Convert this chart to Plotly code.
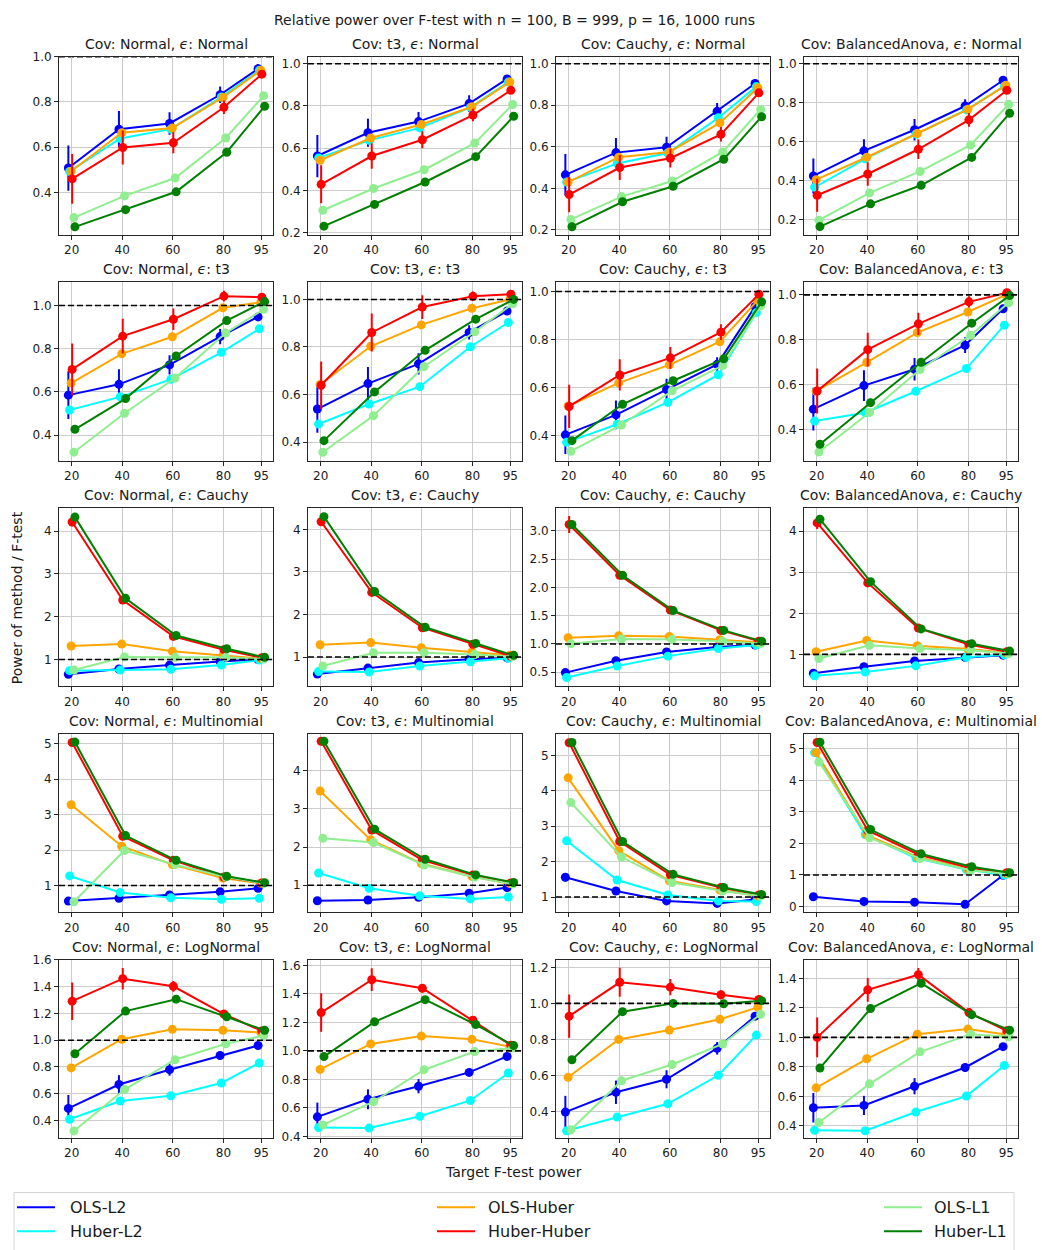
import plotly.graph_objects as go
from plotly.subplots import make_subplots

# ---------------------------------------------------------------------------
# Data: power of each method divided by the power of the F-test.
# Panels are ordered row by row (error distribution), column by column
# (covariate distribution).
# ---------------------------------------------------------------------------
targets = [20, 40, 60, 80, 95]
cov_names = ["Normal", "t3", "Cauchy", "BalancedAnova"]
noise_names = ["Normal", "t3", "Cauchy", "Multinomial", "LogNormal"]
method_names = ["OLS-L2", "Huber-L2", "OLS-Huber", "Huber-Huber", "OLS-L1", "Huber-L1"]

ols_l2 = [
    [0.508, 0.680, 0.705, 0.832, 0.947], [0.563, 0.673, 0.726, 0.811, 0.928],
    [0.465, 0.572, 0.598, 0.771, 0.905], [0.424, 0.553, 0.661, 0.783, 0.915],
    [0.585, 0.635, 0.725, 0.856, 0.947], [0.539, 0.646, 0.729, 0.861, 0.951],
    [0.404, 0.487, 0.592, 0.697, 0.937], [0.491, 0.596, 0.669, 0.776, 0.938],
    [0.654, 0.777, 0.869, 0.954, 1.000], [0.600, 0.740, 0.870, 0.950, 0.980],
    [0.494, 0.703, 0.860, 0.948, 0.980], [0.540, 0.700, 0.840, 0.930, 0.980],
    [0.560, 0.640, 0.730, 0.820, 0.920], [0.590, 0.610, 0.680, 0.790, 0.940],
    [1.560, 1.170, 0.890, 0.820, 0.930], [0.310, 0.160, 0.140, 0.070, 0.990],
    [0.491, 0.669, 0.780, 0.886, 0.960], [0.537, 0.660, 0.752, 0.849, 0.961],
    [0.397, 0.507, 0.579, 0.751, 0.929], [0.523, 0.539, 0.669, 0.796, 0.937],
]
ols_l2_err = [
    [0.100, 0.080, 0.050, 0.037, 0.020], [0.100, 0.066, 0.045, 0.040, 0.015],
    [0.100, 0.070, 0.050, 0.040, 0.020], [0.090, 0.060, 0.055, 0.035, 0.018],
    [0.110, 0.070, 0.045, 0.035, 0.015], [0.100, 0.070, 0.045, 0.030, 0.015],
    [0.080, 0.060, 0.045, 0.030, 0.015], [0.095, 0.068, 0.050, 0.035, 0.015],
    [0.060, 0.050, 0.040, 0.030, 0.020], [0.060, 0.050, 0.040, 0.030, 0.020],
    [0.060, 0.050, 0.040, 0.030, 0.020], [0.060, 0.050, 0.040, 0.030, 0.020],
    [0.040, 0.030, 0.030, 0.020, 0.020], [0.040, 0.030, 0.030, 0.020, 0.020],
    [0.120, 0.060, 0.040, 0.030, 0.020], [0.040, 0.030, 0.030, 0.020, 0.020],
    [0.100, 0.070, 0.045, 0.025, 0.015], [0.100, 0.070, 0.050, 0.025, 0.015],
    [0.090, 0.065, 0.050, 0.035, 0.020], [0.100, 0.065, 0.055, 0.030, 0.015],
]
huber_l2 = [
    [0.493, 0.639, 0.680, 0.822, 0.940], [0.554, 0.637, 0.696, 0.793, 0.913],
    [0.430, 0.520, 0.570, 0.740, 0.890], [0.366, 0.512, 0.639, 0.763, 0.885],
    [0.516, 0.577, 0.658, 0.783, 0.892], [0.476, 0.560, 0.633, 0.801, 0.903],
    [0.373, 0.448, 0.539, 0.654, 0.912], [0.438, 0.475, 0.571, 0.672, 0.865],
    [0.738, 0.754, 0.770, 0.869, 0.985], [0.660, 0.650, 0.790, 0.890, 0.970],
    [0.407, 0.610, 0.785, 0.920, 0.980], [0.480, 0.570, 0.720, 0.930, 0.990],
    [1.270, 0.800, 0.655, 0.610, 0.640], [1.320, 0.920, 0.720, 0.640, 0.690],
    [2.590, 1.480, 1.060, 0.890, 0.870], [4.880, 2.280, 1.540, 1.170, 1.000],
    [0.410, 0.546, 0.585, 0.681, 0.830], [0.462, 0.458, 0.541, 0.652, 0.845],
    [0.293, 0.370, 0.443, 0.601, 0.824], [0.371, 0.367, 0.494, 0.602, 0.810],
]
ols_huber = [
    [0.494, 0.664, 0.685, 0.820, 0.940], [0.543, 0.648, 0.712, 0.796, 0.913],
    [0.430, 0.550, 0.575, 0.715, 0.885], [0.405, 0.520, 0.642, 0.766, 0.890],
    [0.641, 0.776, 0.855, 0.989, 1.015], [0.642, 0.803, 0.893, 0.963, 1.000],
    [0.524, 0.620, 0.695, 0.791, 0.964], [0.571, 0.699, 0.832, 0.924, 1.000],
    [1.315, 1.360, 1.190, 1.100, 1.020], [1.290, 1.340, 1.220, 1.120, 1.040],
    [1.110, 1.145, 1.130, 1.075, 1.030], [1.064, 1.340, 1.210, 1.130, 1.040],
    [3.280, 2.110, 1.590, 1.210, 1.060], [3.470, 2.190, 1.570, 1.230, 1.040],
    [4.370, 2.310, 1.460, 1.200, 1.030], [4.880, 2.270, 1.570, 1.180, 1.050],
    [0.793, 1.007, 1.081, 1.074, 1.057], [0.870, 1.049, 1.104, 1.081, 1.030],
    [0.590, 0.800, 0.852, 0.912, 0.978], [0.658, 0.855, 1.022, 1.056, 1.020],
]
huber_huber = [
    [0.460, 0.599, 0.620, 0.777, 0.923], [0.429, 0.563, 0.640, 0.757, 0.874],
    [0.370, 0.500, 0.545, 0.660, 0.860], [0.325, 0.434, 0.561, 0.712, 0.864],
    [0.704, 0.858, 0.936, 1.043, 1.038], [0.639, 0.861, 0.968, 1.013, 1.022],
    [0.522, 0.653, 0.724, 0.831, 0.988], [0.572, 0.756, 0.871, 0.969, 1.010],
    [4.215, 2.390, 1.540, 1.230, 1.040], [4.180, 2.520, 1.690, 1.300, 1.020],
    [3.110, 2.215, 1.600, 1.240, 1.050], [4.200, 2.740, 1.640, 1.240, 1.064],
    [5.040, 2.390, 1.710, 1.240, 1.070], [4.780, 2.450, 1.660, 1.270, 1.060],
    [5.360, 2.570, 1.630, 1.270, 1.060], [5.200, 2.410, 1.650, 1.230, 1.070],
    [1.291, 1.459, 1.402, 1.195, 1.069], [1.269, 1.500, 1.440, 1.215, 1.040],
    [0.929, 1.117, 1.090, 1.048, 1.022], [1.000, 1.322, 1.425, 1.168, 1.045],
]
huber_huber_err = [
    [0.110, 0.075, 0.047, 0.030, 0.015], [0.090, 0.060, 0.040, 0.030, 0.015],
    [0.085, 0.060, 0.045, 0.035, 0.015], [0.085, 0.060, 0.050, 0.035, 0.015],
    [0.120, 0.080, 0.050, 0.025, 0.010], [0.100, 0.080, 0.050, 0.020, 0.010],
    [0.090, 0.065, 0.045, 0.033, 0.015], [0.100, 0.075, 0.050, 0.025, 0.010],
    [0.100, 0.060, 0.050, 0.040, 0.020], [0.100, 0.060, 0.050, 0.040, 0.020],
    [0.150, 0.050, 0.040, 0.040, 0.020], [0.150, 0.060, 0.050, 0.040, 0.020],
    [0.050, 0.040, 0.030, 0.020, 0.010], [0.050, 0.040, 0.030, 0.020, 0.010],
    [0.050, 0.040, 0.030, 0.020, 0.010], [0.050, 0.040, 0.030, 0.020, 0.010],
    [0.140, 0.080, 0.040, 0.020, 0.010], [0.135, 0.080, 0.030, 0.020, 0.010],
    [0.120, 0.080, 0.045, 0.025, 0.010], [0.135, 0.080, 0.045, 0.020, 0.010],
]
ols_l1 = [
    [0.289, 0.385, 0.464, 0.641, 0.828], [0.306, 0.409, 0.498, 0.624, 0.807],
    [0.250, 0.360, 0.435, 0.575, 0.780], [0.197, 0.337, 0.447, 0.583, 0.792],
    [0.321, 0.501, 0.664, 0.872, 0.982], [0.357, 0.511, 0.718, 0.864, 0.982],
    [0.336, 0.445, 0.587, 0.692, 0.940], [0.300, 0.476, 0.668, 0.820, 0.965],
    [0.754, 1.060, 1.050, 1.050, 1.010], [0.790, 1.100, 1.100, 1.060, 1.010],
    [1.005, 1.087, 1.080, 1.050, 1.005], [0.900, 1.220, 1.140, 1.100, 1.020],
    [0.540, 1.990, 1.590, 1.240, 1.060], [2.230, 2.120, 1.530, 1.210, 1.030],
    [3.670, 2.130, 1.410, 1.170, 1.030], [4.580, 2.180, 1.520, 1.150, 1.040],
    [0.323, 0.632, 0.854, 0.973, 1.035], [0.480, 0.643, 0.868, 0.995, 1.020],
    [0.299, 0.571, 0.661, 0.775, 0.940], [0.423, 0.685, 0.902, 1.022, 1.004],
]
huber_l1 = [
    [0.248, 0.324, 0.403, 0.578, 0.781], [0.231, 0.334, 0.440, 0.560, 0.751],
    [0.215, 0.335, 0.410, 0.540, 0.745], [0.164, 0.281, 0.376, 0.519, 0.746],
    [0.427, 0.569, 0.766, 0.930, 1.018], [0.406, 0.611, 0.786, 0.917, 1.000],
    [0.380, 0.531, 0.629, 0.720, 0.957], [0.335, 0.520, 0.700, 0.874, 0.997],
    [4.330, 2.430, 1.560, 1.250, 1.050], [4.300, 2.540, 1.700, 1.320, 1.040],
    [3.110, 2.215, 1.590, 1.240, 1.050], [4.290, 2.770, 1.620, 1.260, 1.080],
    [5.050, 2.410, 1.710, 1.260, 1.080], [4.780, 2.470, 1.680, 1.270, 1.070],
    [5.370, 2.570, 1.640, 1.270, 1.070], [5.210, 2.440, 1.670, 1.260, 1.070],
    [0.899, 1.217, 1.306, 1.175, 1.074], [0.960, 1.204, 1.360, 1.185, 1.037],
    [0.687, 0.954, 1.000, 0.998, 1.015], [0.792, 1.195, 1.367, 1.154, 1.049],
]

# ---------------------------------------------------------------------------
# Styling and geometry
# ---------------------------------------------------------------------------
W, H = 1042, 1250
FONT = "DejaVu Sans"
TXT = "#1a1a1a"
colors = ["#0000ff", "#00ffff", "#ffa500", "#ff0000", "#90ee90", "#008000"]
x_shift = [-1.3, -0.8, -0.2, 0.2, 0.9, 1.3]   # horizontal dodge per method

col_left = [59, 308, 556, 804]
panel_w = 214
row_top = [50, 278, 506, 734, 962]
panel_h = 180

y_ranges = [
    [0.213, 1.001], [0.190, 1.034], [0.176, 1.035], [0.122, 1.037],
    [0.282, 1.107], [0.322, 1.072], [0.297, 1.038], [0.262, 1.056],
    [0.370, 4.540], [0.310, 4.500], [0.250, 3.400], [0.220, 4.560],
    [0.245, 5.280], [0.290, 4.970], [0.570, 5.610], [-0.180, 5.470],
    [0.270, 1.600], [0.388, 1.640], [0.253, 1.242], [0.318, 1.526],
]
y_dticks = [0.2] * 8 + [1, 1, 0.5, 1] + [1] * 4 + [0.2] * 4


def px_x(x):
    return x / W


def px_y(y):
    return 1 - y / H


series = [
    (ols_l2, ols_l2_err), (huber_l2, None), (ols_huber, None),
    (huber_huber, huber_huber_err), (ols_l1, None), (huber_l1, None),
]

fig = make_subplots(rows=5, cols=4)

for r in range(5):
    for c in range(4):
        p = r * 4 + c
        for m, (vals, errs) in enumerate(series):
            err_cfg = dict(visible=False)
            if errs is not None:
                err_cfg = dict(type="data", array=errs[p], visible=True,
                               color=colors[m], thickness=2, width=0)
            fig.add_trace(
                go.Scatter(
                    x=[t + x_shift[m] for t in targets],
                    y=vals[p],
                    mode="lines+markers",
                    name=method_names[m],
                    showlegend=False,
                    line=dict(color=colors[m], width=2),
                    marker=dict(color=colors[m], size=9),
                    error_y=err_cfg,
                ),
                row=r + 1, col=c + 1,
            )
        # reference line at equal power; tucked under the frame when it sits on the edge
        at_edge = y_ranges[p][1] < 1.005
        fig.add_hline(y=1, row=r + 1, col=c + 1,
                      layer="below" if at_edge else "above",
                      line=dict(color="black", width=1.6, dash="6px,3px"))

        x0 = col_left[c]
        y0 = row_top[r]
        fig.update_xaxes(
            domain=[px_x(x0), px_x(x0 + panel_w)], range=[15.0, 99.6],
            tickvals=targets, row=r + 1, col=c + 1,
        )
        fmt = ".1f" if y_dticks[p] < 1 else "d"
        fig.update_yaxes(
            domain=[px_y(y0 + panel_h), px_y(y0)], range=y_ranges[p],
            dtick=y_dticks[p], tick0=0, tickformat=fmt, row=r + 1, col=c + 1,
        )
        fig.add_annotation(
            text=f"Cov: {cov_names[c]}, <i>ϵ</i>: {noise_names[r]}",
            x=px_x(x0 + panel_w / 2), y=px_y(y0 - 13), xref="paper", yref="paper",
            xanchor="center", yanchor="middle", showarrow=False,
            font=dict(family=FONT, size=14, color=TXT),
        )

axis_style = dict(
    showline=True, mirror=True, linecolor="#262626", linewidth=1,
    ticks="outside", ticklen=4, tickwidth=1, tickcolor="#262626",
    showgrid=True, gridcolor="#cccccc", gridwidth=1, zeroline=False,
    tickfont=dict(family=FONT, size=12, color=TXT),
)
fig.update_xaxes(**axis_style)
fig.update_yaxes(**axis_style)

# Figure-level texts
fig.add_annotation(
    text="Relative power over F-test with n = 100, B = 999, p = 16, 1000 runs",
    x=px_x(514), y=px_y(13), xref="paper", yref="paper", showarrow=False,
    xanchor="center", yanchor="middle", font=dict(family=FONT, size=14, color=TXT),
)
fig.add_annotation(
    text="Target F-test power", x=px_x(513), y=px_y(1176), xref="paper", yref="paper",
    showarrow=False, xanchor="center", yanchor="middle",
    font=dict(family=FONT, size=14, color=TXT),
)
fig.add_annotation(
    text="Power of method / F-test", x=px_x(17), y=px_y(597), xref="paper", yref="paper",
    showarrow=False, xanchor="center", yanchor="middle", textangle=-90,
    font=dict(family=FONT, size=14, color=TXT),
)

# Legend drawn as a boxed grid of line handles and labels
fig.add_shape(type="rect", xref="paper", yref="paper",
              x0=px_x(14), x1=px_x(1014), y0=px_y(1262), y1=px_y(1197),
              line=dict(color="#d5d5d5", width=1), fillcolor="white", layer="above")
legend_cols = [(17, 68), (437, 486), (884, 932)]
legend_rows = [1212, 1236]
for m, name in enumerate(method_names):
    col, row = divmod(m, 2)
    lx, tx = legend_cols[col]
    ly = legend_rows[row]
    fig.add_shape(type="line", xref="paper", yref="paper",
                  x0=px_x(lx), x1=px_x(lx + 38), y0=px_y(ly), y1=px_y(ly),
                  line=dict(color=colors[m], width=2), layer="above")
    fig.add_annotation(text=name, x=px_x(tx), y=px_y(ly), xref="paper", yref="paper",
                       showarrow=False, xanchor="left", yanchor="middle",
                       font=dict(family=FONT, size=16, color=TXT))

fig.update_layout(
    width=W, height=H, autosize=False,
    margin=dict(l=0, r=0, t=0, b=0),
    paper_bgcolor="white", plot_bgcolor="white",
    showlegend=False,
    font=dict(family=FONT, color=TXT),
)

fig.write_html("out.html")
